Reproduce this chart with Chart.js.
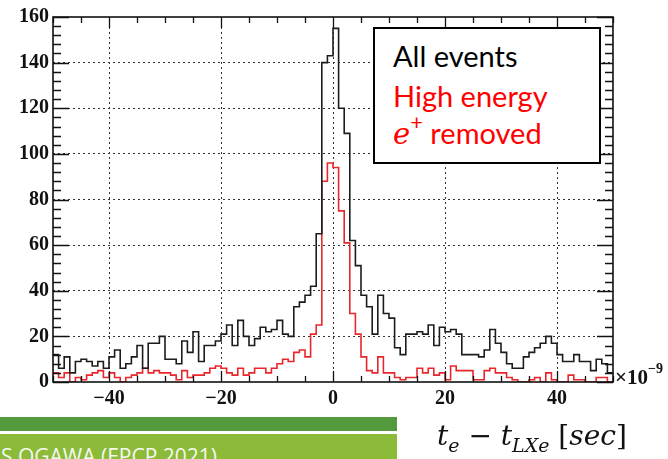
<!DOCTYPE html>
<html>
<head>
<meta charset="utf-8">
<script src="https://cdn.jsdelivr.net/npm/chart.js@4"></script>
<style>
  html, body { margin: 0; padding: 0; background: #fff; }
  #wrap { position: relative; width: 668px; height: 459px; overflow: hidden; }
  #plot { position: absolute; left: 0; top: 0; }
  .legend-box {
    position: absolute; left: 373px; top: 27px; width: 224px; height: 133px;
    border: 2px solid #000; background: #fff;
    font-family: Lato, "Open Sans", sans-serif; font-size: 29px; line-height: 36px;
  }
  .legend-box .row { position: absolute; left: 18px; white-space: nowrap; }
  .math { font-family: "DejaVu Serif", "Liberation Serif", serif; font-style: italic; }
  .exponent {
    position: absolute; left: 615px; top: 364px; white-space: nowrap;
    font-family: "Liberation Serif", serif; font-weight: bold; font-size: 21px; color: #111;
  }
  .exponent sup { font-size: 14px; position: relative; top: -3px; }
  .bar-dark { position: absolute; left: 0; top: 417px; width: 397px; height: 14px; background: #529a3c; }
  .bar-light { position: absolute; left: 0; top: 434px; width: 397px; height: 25px; background: #8cbb3a; }
  .footer-text {
    position: absolute; left: 1px; top: 442px; white-space: nowrap;
    font-family: "Open Sans", sans-serif; font-size: 21px; color: #f4f8ee;
  }
  .axis-title {
    position: absolute; left: 437px; top: 419px; white-space: nowrap;
    font-family: "DejaVu Serif", serif; font-size: 28px; color: #111;
  }
  .axis-title sub { font-size: 19px; }
</style>
</head>
<body>
<div id="wrap">
  <canvas id="plot" width="668" height="459"></canvas>
  <div class="legend-box">
    <div class="row" style="top:9px;color:#000">All events</div>
    <div class="row" style="top:49px;color:#f00">High energy</div>
    <div class="row" style="top:78px;color:#f00"><span class="math">e</span><sup style="font-size:22px;position:relative;top:-3px">+</sup> removed</div>
  </div>
  <div class="exponent">&times;10<sup>&minus;9</sup></div>
  <div class="bar-dark"></div>
  <div class="bar-light"></div>
  <div class="footer-text">S OGAWA (EPCP 2021)</div>
  <div class="axis-title"><i>t</i><sub><i>e</i></sub> &minus; <i>t</i><sub><i>LXe</i></sub> [<i>sec</i>]</div>
</div>
<script>
// histogram binning (units of 1e-9 s)
const X_MIN = -50;
const X_MAX = 50;
const BIN_W = 1;

// counts per bin, from -50 to 49
const allEvents = [
  12, 6, 11, 4, 9, 10, 9, 7, 9, 6,
  11, 14, 6, 8, 11, 16, 6, 17, 17, 20,
  10, 10, 8, 18, 13, 22, 9, 16, 16, 18,
  21, 25, 16, 27, 20, 16, 19, 24, 22, 23,
  27, 21, 20, 33, 35, 38, 42, 65, 140, 143,
  155, 120, 109, 62, 51, 38, 33, 21, 38, 30,
  28, 15, 12, 21, 21, 22, 21, 25, 16, 24,
  22, 23, 21, 12, 12, 12, 11, 14, 23, 17,
  13, 8, 6, 6, 11, 13, 15, 17, 20, 17,
  12, 9, 9, 12, 9, 9, 5, 10, 8, 4
];
const positronRemoved = [
  4, 2, 4, 0, 2, 1, 3, 4, 5, 2,
  4, 2, 0, 2, 3, 4, 6, 4, 5, 4,
  4, 3, 1, 5, 2, 3, 3, 4, 6, 7,
  6, 4, 3, 6, 3, 4, 6, 6, 4, 6,
  8, 10, 9, 13, 14, 11, 21, 25, 88, 96,
  94, 75, 61, 30, 21, 11, 5, 4, 11, 4,
  4, 2, 1, 2, 2, 6, 4, 6, 3, 4,
  1, 7, 5, 5, 5, 1, 1, 5, 6, 4,
  4, 2, 1, 0, 0, 1, 2, 0, 4, 1,
  0, 0, 3, 1, 1, 0, 0, 2, 2, 0
];

const xTickValues = [-40, -20, 0, 20, 40];

const Y_MIN = 0;
const Y_MAX = 160;
const Y_MAJOR = 20;
const Y_MINOR = 4;
const X_MAJOR = 20;
const X_MINOR = 5;

// turn bin counts into step points (left edge of each bin + closing edge)
function toSteps(counts) {
  const pts = counts.map((c, i) => ({ x: X_MIN + i * BIN_W, y: c }));
  pts.push({ x: X_MAX, y: counts[counts.length - 1] });
  return pts;
}

const minusLabel = v => (v < 0 ? '\u2212' + Math.abs(v) : String(v));

// ROOT-like frame with inward ticks on all four sides
const frameTicks = {
  id: 'frameTicks',
  afterDatasetsDraw(chart) {
    const { ctx, chartArea: a, scales } = chart;
    const xs = scales.x, ys = scales.y;
    ctx.save();
    ctx.strokeStyle = '#111';
    ctx.lineWidth = 1.3;
    ctx.beginPath();
    for (let v = Y_MIN; v <= Y_MAX; v += Y_MINOR) {
      const y = Math.round(ys.getPixelForValue(v)) + 0.5;
      const len = v % Y_MAJOR === 0 ? 16 : 8;
      ctx.moveTo(a.left, y); ctx.lineTo(a.left + len, y);
      ctx.moveTo(a.right, y); ctx.lineTo(a.right - len, y);
    }
    for (let v = X_MIN; v <= X_MAX; v += X_MINOR) {
      const x = Math.round(xs.getPixelForValue(v)) + 0.5;
      const len = v % X_MAJOR === 0 ? 11 : 6;
      ctx.moveTo(x, a.bottom); ctx.lineTo(x, a.bottom - len);
      ctx.moveTo(x, a.top); ctx.lineTo(x, a.top + len);
    }
    ctx.stroke();
    ctx.lineWidth = 1.6;
    ctx.strokeRect(a.left, a.top, a.right - a.left, a.bottom - a.top);
    ctx.restore();
  }
};

const tickFont = { family: 'Liberation Serif', weight: 'bold', size: 20 };

new Chart(document.getElementById('plot'), {
  type: 'line',
  data: {
    datasets: [
      {
        label: 'All events',
        data: toSteps(allEvents),
        borderColor: '#1c1c1c',
        borderWidth: 1.6,
        stepped: 'before',
        pointRadius: 0,
        fill: false
      },
      {
        label: 'High energy e+ removed',
        data: toSteps(positronRemoved),
        borderColor: '#e8262b',
        borderWidth: 1.6,
        stepped: 'before',
        pointRadius: 0,
        fill: false
      }
    ]
  },
  options: {
    responsive: false,
    animation: false,
    layout: { padding: { left: 0, top: 17, right: 55, bottom: 0 } },
    plugins: {
      legend: { display: false },
      tooltip: { enabled: false }
    },
    scales: {
      x: {
        type: 'linear',
        min: X_MIN,
        max: X_MAX,
        afterFit: s => { s.height = 77; },
        afterBuildTicks: s => { s.ticks = xTickValues.map(v => ({ value: v })); },
        border: { display: false, dash: [2, 3] },
        grid: {
          drawTicks: false,
          lineWidth: 1,
          color: '#333'
        },
        ticks: {
          maxRotation: 0,
          padding: 5,
          color: '#111',
          font: tickFont,
          callback: v => minusLabel(v)
        }
      },
      y: {
        min: Y_MIN,
        max: Y_MAX,
        afterFit: s => { s.width = 53; },
        border: { display: false, dash: [2, 3] },
        grid: {
          drawTicks: false,
          lineWidth: 1,
          color: c => (c.tick && c.tick.value > Y_MIN && c.tick.value < Y_MAX ? '#333' : 'rgba(0,0,0,0)')
        },
        ticks: {
          stepSize: Y_MAJOR,
          padding: 4,
          color: '#111',
          font: tickFont
        }
      }
    }
  },
  plugins: [frameTicks]
});
</script>
</body>
</html>
